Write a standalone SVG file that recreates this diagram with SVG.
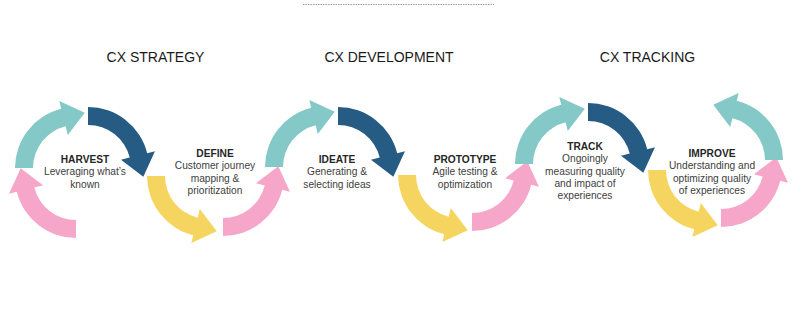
<svg xmlns="http://www.w3.org/2000/svg" xmlns:xlink="http://www.w3.org/1999/xlink" width="803" height="321" viewBox="0 0 803 321">
<style>
.hd{font-family:"Liberation Sans",Arial,sans-serif;font-size:14px;fill:#1a1a1a;text-anchor:middle}
.t{font-family:"Liberation Sans",Arial,sans-serif;font-size:10.2px;font-weight:bold;fill:#262626;text-anchor:middle}
.d{font-family:"Liberation Sans",Arial,sans-serif;font-size:10.2px;fill:#404040;text-anchor:middle}
.teal{fill:#84C8C7}.blue{fill:#265B84}.yel{fill:#F5D55F}.pink{fill:#F5A6C9}
</style>
<defs>
<path id="a" d="M -61 0 A 61 61 0 0 1 -14.757 -59.188 L -16.692 -66.951 L 8.760 -55.311 L -8.225 -32.990 L -10.403 -41.723 A 43 43 0 0 0 -43 0 Z"/>
</defs>
<line x1="303" y1="4.5" x2="494" y2="4.5" stroke="#9a9a9a" stroke-width="1" stroke-dasharray="1.5 1"/>
<g id="headers">
<text class="hd" x="155.5" y="62">CX STRATEGY</text>
<text class="hd" x="389" y="62">CX DEVELOPMENT</text>
<text class="hd" x="647.5" y="62">CX TRACKING</text>
</g>
<g id="connectors">
<use xlink:href="#a" class="pink" transform="translate(76,177) rotate(-90)"/>
<use xlink:href="#a" class="teal" transform="translate(76,168)"/>
<use xlink:href="#a" class="blue" transform="translate(88,168) rotate(90)"/>
<use xlink:href="#a" class="yel" transform="translate(208,176) scale(1,-1)"/>
<use xlink:href="#a" class="pink" transform="translate(223,175) rotate(-90) scale(1,-1)"/>
<use xlink:href="#a" class="teal" transform="translate(326,167)"/>
<use xlink:href="#a" class="blue" transform="translate(338,168) rotate(90)"/>
<use xlink:href="#a" class="yel" transform="translate(459,175) scale(1,-1)"/>
<use xlink:href="#a" class="pink" transform="translate(472,170) rotate(-90) scale(1,-1)"/>
<use xlink:href="#a" class="teal" transform="translate(576,164)"/>
<use xlink:href="#a" class="blue" transform="translate(588,164) rotate(90)"/>
<use xlink:href="#a" class="yel" transform="translate(709,170) scale(1,-1)"/>
<use xlink:href="#a" class="pink" transform="translate(721,166) rotate(-90) scale(1,-1)"/>
<use xlink:href="#a" class="teal" transform="translate(722,160) scale(-1,1)"/>
</g>
<g id="harvest">
<text class="t" x="85" y="163">HARVEST</text>
<text class="d" x="85" y="175.3">Leveraging what’s</text>
<text class="d" x="85" y="187.6">known</text>
</g>
<g id="define">
<text class="t" x="215" y="157">DEFINE</text>
<text class="d" x="215" y="169.3">Customer journey</text>
<text class="d" x="215" y="181.6">mapping &amp;</text>
<text class="d" x="215" y="193.9">prioritization</text>
</g>
<g id="ideate">
<text class="t" x="337" y="163">IDEATE</text>
<text class="d" x="337" y="175.3">Generating &amp;</text>
<text class="d" x="337" y="187.6">selecting ideas</text>
</g>
<g id="prototype">
<text class="t" x="465" y="163">PROTOTYPE</text>
<text class="d" x="465" y="175.3">Agile testing &amp;</text>
<text class="d" x="465" y="187.6">optimization</text>
</g>
<g id="track">
<text class="t" x="585" y="150">TRACK</text>
<text class="d" x="585" y="162.3">Ongoingly</text>
<text class="d" x="585" y="174.6">measuring quality</text>
<text class="d" x="585" y="186.9">and impact of</text>
<text class="d" x="585" y="199.2">experiences</text>
</g>
<g id="improve">
<text class="t" x="712" y="157">IMPROVE</text>
<text class="d" x="712" y="169.3">Understanding and</text>
<text class="d" x="712" y="181.6">optimizing quality</text>
<text class="d" x="712" y="193.9">of experiences</text>
</g>
</svg>
